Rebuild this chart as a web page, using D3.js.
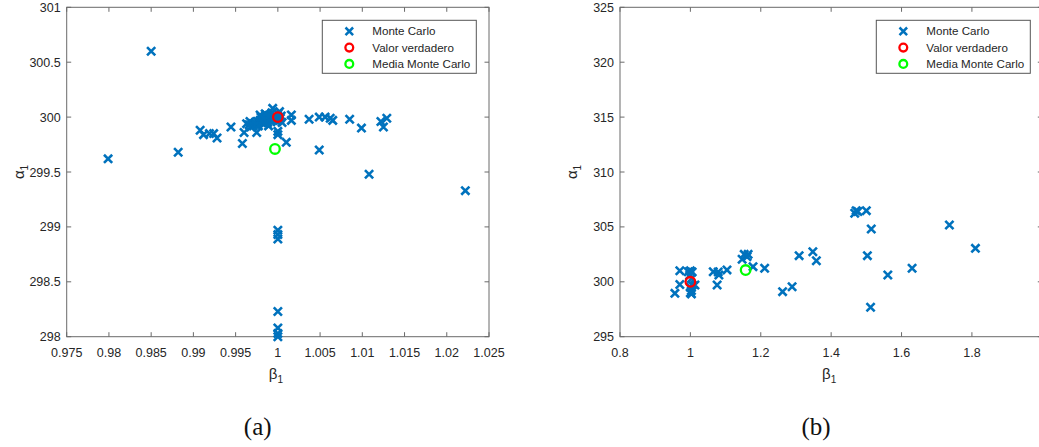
<!DOCTYPE html>
<html>
<head>
<meta charset="utf-8">
<script src="https://cdn.jsdelivr.net/npm/d3@7"></script>
<style>
  body { margin: 0; background: #fff; }
  svg { display: block; }
  text { font-family: "Liberation Sans", Arial, sans-serif; fill: #262626; }
  .caption { font-family: "Liberation Serif", "DejaVu Serif", serif; font-size: 25px; fill: #111; }
</style>
</head>
<body>
<svg id="chart" width="1039" height="447"></svg>
<script>
// ---- panel (a) data ----
const betaA = [0.9799, 0.985, 0.9882, 0.9908, 0.9912, 0.9919, 0.9924, 0.9928, 0.99445, 0.9958, 0.9960, 0.9975,
  0.9966, 0.9967, 0.9968, 0.9970, 0.9971, 0.9973, 0.9974, 0.9976, 0.9977, 0.9979, 0.9980, 0.9981, 0.9983,
  0.9984, 0.9986, 0.9987, 0.9988, 0.9990, 0.9991, 0.9992, 0.9993, 0.9994, 0.9995, 0.9996, 0.9997, 0.9998,
  0.9999, 1.0000, 1.0001, 1.0002, 1.0003, 1.0004, 1.0005, 0.9989, 0.9985, 0.9963, 0.9979,
  0.99939, 1.0000, 1.0000, 1.0010, 1.0016, 1.0016,
  1.0037, 1.0049, 1.0056, 1.0062, 1.0065, 1.0085, 1.0099, 1.0122, 1.0125, 1.0129,
  1.0049, 1.0108, 1.0222,
  1.0000, 1.0000, 1.0000, 1.0000, 1.0000, 1.0000, 1.0000];
const alphaA = [299.62, 300.60, 299.68, 299.88, 299.84, 299.85, 299.85, 299.81, 299.91, 299.76, 299.86, 299.86,
  299.93, 299.96, 299.91, 299.94, 299.92, 299.95, 299.93, 299.96, 299.92, 299.97, 300.00, 299.95, 299.98,
  299.94, 300.01, 299.97, 299.95, 300.02, 299.99, 299.96, 300.04, 300.00, 299.97, 300.02, 299.99, 300.01,
  299.96, 300.03, 299.98, 300.05, 299.99, 300.01, 299.95, 299.92, 300.03, 299.94, 300.02,
  300.08, 299.87, 299.84, 299.77, 300.02, 299.97,
  299.98, 300.00, 300.00, 299.99, 299.97, 299.98, 299.90, 299.96, 299.91, 299.99,
  299.70, 299.48, 299.33,
  298.97, 298.93, 298.89, 298.23, 298.08, 298.03, 298.00];
const trueA = [1.0, 300.0];
const meanA = [0.99966, 299.71];
const xTicksA = [0.975, 0.98, 0.985, 0.99, 0.995, 1, 1.005, 1.01, 1.015, 1.02, 1.025];
const yTicksA = [298, 298.5, 299, 299.5, 300, 300.5, 301];

// ---- panel (b) data ----
const betaB = [0.956, 0.970, 0.970, 0.994, 1.000, 1.005, 0.998, 1.003, 1.005, 1.000, 1.003, 1.000, 1.003, 1.013,
  1.065, 1.076, 1.079, 1.081, 1.104, 1.147, 1.153, 1.164, 1.161, 1.178, 1.211, 1.262, 1.289, 1.309,
  1.348, 1.358, 1.467, 1.471, 1.476, 1.500, 1.514, 1.503, 1.512, 1.561, 1.630, 1.736, 1.810];
const alphaB = [298.95, 301.01, 299.75, 300.92, 301.00, 300.90, 300.60, 300.30, 299.70, 299.50, 299.20, 299.00, 298.90, 299.71,
  300.92, 299.71, 300.90, 300.62, 301.08, 302.05, 302.50, 302.50, 302.29, 301.38, 301.23, 299.10, 299.55, 302.38,
  302.74, 301.92, 306.24, 306.48, 306.40, 306.48, 304.81, 302.38, 297.68, 300.62, 301.23, 305.17, 303.05];
const trueB = [1.0, 300.0];
const meanB = [1.157, 301.07];
const xTicksB = [0.8, 1, 1.2, 1.4, 1.6, 1.8, 2];
const xTickLabelsB = [0.8, 1, 1.2, 1.4, 1.6, 1.8];   // the "2" falls off the page
const yTicksB = [295, 300, 305, 310, 315, 320, 325];

const legendLabels = ["Monte Carlo", "Valor verdadero", "Media Monte Carlo"];
const mcColor = "#0072BD";

const svg = d3.select("#chart");

function crossPath(cx, cy, s) {
  return `M${cx - s},${cy - s}L${cx + s},${cy + s}M${cx - s},${cy + s}L${cx + s},${cy - s}`;
}

function drawPanel(opt) {
  const x = d3.scaleLinear().domain(opt.xDomain).range([opt.left, opt.right]);
  const y = d3.scaleLinear().domain(opt.yDomain).range([opt.bottom, opt.top]);
  const g = svg.append("g");
  const axisColor = "#6a6a6a";

  // frame
  g.append("rect")
    .attr("x", opt.left).attr("y", opt.top)
    .attr("width", opt.right - opt.left).attr("height", opt.bottom - opt.top)
    .attr("fill", "none").attr("stroke", axisColor).attr("stroke-width", 1);

  // ticks (inward, on all four sides)
  const tl = 4.5;
  g.append("g").selectAll("path").data(opt.xTicks).join("path")
    .attr("d", d => `M${x(d)},${opt.bottom}v${-tl}M${x(d)},${opt.top}v${tl}`)
    .attr("stroke", axisColor);
  g.append("g").selectAll("path").data(opt.yTicks).join("path")
    .attr("d", d => `M${opt.left},${y(d)}h${tl}M${opt.right},${y(d)}h${-tl}`)
    .attr("stroke", axisColor);

  g.append("g").selectAll("text").data(opt.xTickLabels).join("text")
    .attr("x", d => x(d)).attr("y", opt.bottom + 20)
    .attr("text-anchor", "middle").attr("font-size", 12.5)
    .text(d => d);
  g.append("g").selectAll("text").data(opt.yTicks).join("text")
    .attr("x", opt.left - 6).attr("y", d => y(d) + 4.5)
    .attr("text-anchor", "end").attr("font-size", 12.5)
    .text(d => d);

  // axis labels
  const xl = g.append("text")
    .attr("x", (opt.left + opt.right) / 2 - 2).attr("y", opt.bottom + 42)
    .attr("text-anchor", "middle").attr("font-size", 15);
  xl.append("tspan").text("β");
  xl.append("tspan").attr("font-size", 10).attr("dy", 4).text("1");

  const yl = g.append("text")
    .attr("transform", `translate(${opt.left - 43},${(opt.top + opt.bottom) / 2}) rotate(-90)`)
    .attr("text-anchor", "middle").attr("font-size", 15);
  yl.append("tspan").text("α");
  yl.append("tspan").attr("font-size", 10).attr("dy", 4).text("1");

  // points
  const pts = opt.beta.map((b, i) => ({b: b, a: opt.alpha[i]}));
  g.append("g").selectAll("path").data(pts).join("path")
    .attr("d", d => crossPath(x(d.b), y(d.a), 4.1))
    .attr("stroke", mcColor).attr("stroke-width", 2.6).attr("fill", "none");

  g.append("circle")
    .attr("cx", x(opt.trueVal[0])).attr("cy", y(opt.trueVal[1])).attr("r", 4.8)
    .attr("fill", "none").attr("stroke", "#ff0000").attr("stroke-width", 2.3);
  g.append("circle")
    .attr("cx", x(opt.meanVal[0])).attr("cy", y(opt.meanVal[1])).attr("r", 4.8)
    .attr("fill", "none").attr("stroke", "#00ff00").attr("stroke-width", 2.3);

  // legend
  const lg = g.append("g").attr("transform", `translate(${opt.legendX},${opt.top + 13})`);
  lg.append("rect").attr("width", 154).attr("height", 53)
    .attr("fill", "#fff").attr("stroke", "#555").attr("stroke-width", 1);
  legendLabels.forEach((lab, i) => {
    const cy = 11 + i * 16.3;
    if (i === 0) {
      lg.append("path").attr("d", crossPath(27, cy, 3.8))
        .attr("stroke", mcColor).attr("stroke-width", 2.5);
    } else {
      lg.append("circle").attr("cx", 27).attr("cy", cy).attr("r", 3.9)
        .attr("fill", "none").attr("stroke", i === 1 ? "#ff0000" : "#00ff00").attr("stroke-width", 2.3);
    }
    lg.append("text").attr("x", 50).attr("y", cy + 4.2)
      .attr("font-size", 11.6).text(lab);
  });

  svg.append("text").attr("class", "caption")
    .attr("x", opt.captionX).attr("y", 435)
    .attr("text-anchor", "middle").text(opt.caption);
}

drawPanel({
  beta: betaA, alpha: alphaA, trueVal: trueA, meanVal: meanA,
  xDomain: [0.975, 1.025], yDomain: [298, 301],
  xTicks: xTicksA, xTickLabels: xTicksA, yTicks: yTicksA,
  left: 66.7, right: 489, top: 7.3, bottom: 336.7,
  legendX: 322.3, caption: "(a)", captionX: 257.7
});

drawPanel({
  beta: betaB, alpha: alphaB, trueVal: trueB, meanVal: meanB,
  xDomain: [0.8, 2.0], yDomain: [295, 325],
  xTicks: xTicksB, xTickLabels: xTickLabelsB, yTicks: yTicksB,
  left: 620, right: 1042.3, top: 7.3, bottom: 336.7,
  legendX: 876.3, caption: "(b)", captionX: 816
});
</script>
</body>
</html>
